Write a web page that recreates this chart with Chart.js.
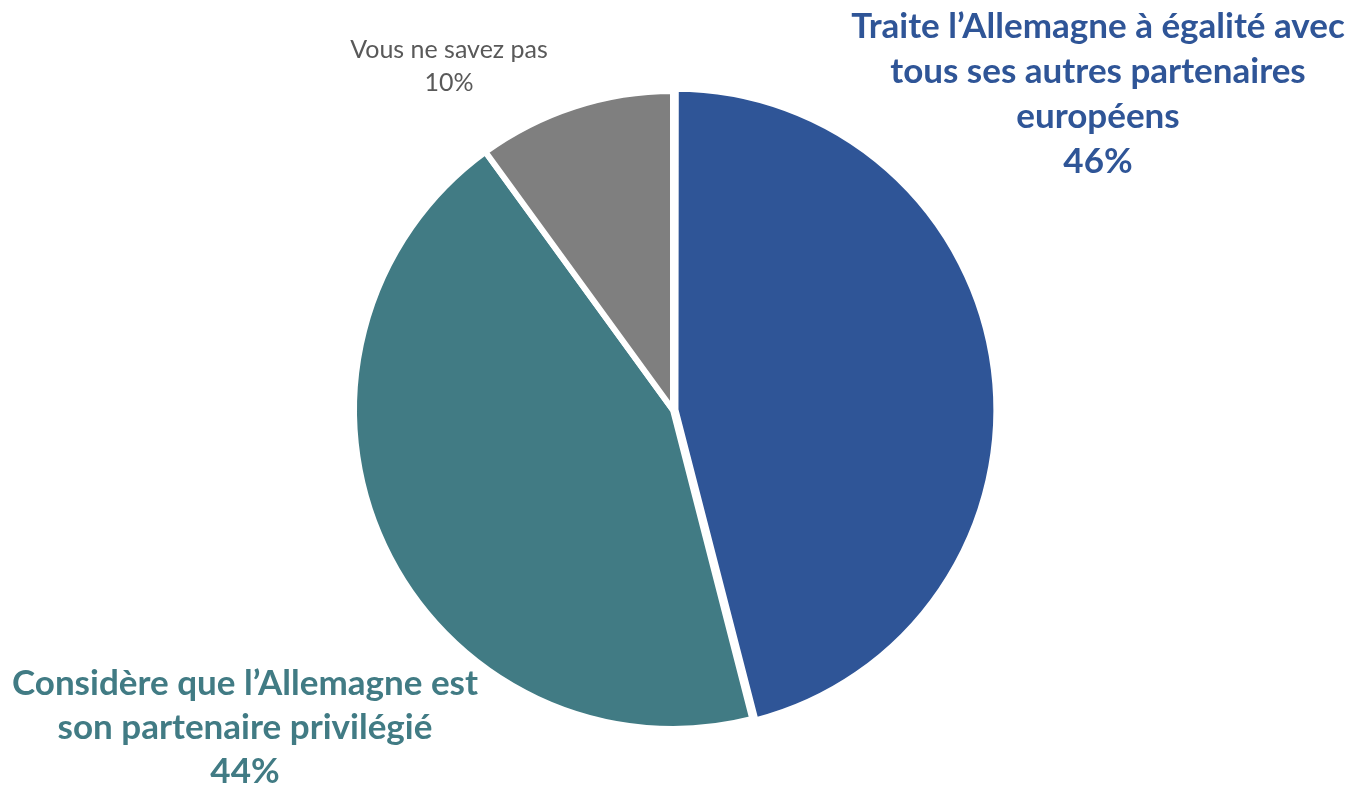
<!DOCTYPE html>
<html>
<head>
<meta charset="utf-8">
<script src="https://cdn.jsdelivr.net/npm/chart.js@4/dist/chart.umd.min.js"></script>
<style>
  html, body { margin: 0; padding: 0; background: #fff; }
  #wrap { width: 1353px; height: 789px; position: relative; }
</style>
</head>
<body>
<div id="wrap"><canvas id="pieChart"></canvas></div>
<script>
  // Values
  const categories = [
    "Traite l’Allemagne à égalité avec tous ses autres partenaires européens",
    "Considère que l’Allemagne est son partenaire privilégié",
    "Vous ne savez pas"
  ];
  const values = [46, 44, 10];
  const labelLines = [
    ["Traite l’Allemagne à égalité avec", "tous ses autres partenaires", "européens"],
    ["Considère que l’Allemagne est", "son partenaire privilégié"],
    ["Vous ne savez pas"]
  ];
  const sliceColors = ["#2F5597", "#417B84", "#7F7F7F"];
  const textColors = ["#2F5597", "#417B84", "#595959"];

  // label placement: center x, first baseline, line step, font
  const labelStyle = [
    { x: 1098, y: 38, step: 45, font: "bold 35px Lato" },
    { x: 245, y: 695, step: 44, font: "bold 35px Lato" },
    { x: 449, y: 58, step: 33, font: "25px Lato" }
  ];

  const sliceLabels = {
    id: "sliceLabels",
    afterDraw(chart) {
      const ctx = chart.ctx;
      ctx.save();
      ctx.textAlign = "center";
      ctx.textBaseline = "alphabetic";
      labelLines.forEach(function (lines, i) {
        const s = labelStyle[i];
        ctx.font = s.font;
        ctx.fillStyle = textColors[i];
        const all = lines.concat([values[i] + "%"]);
        all.forEach(function (t, j) {
          ctx.fillText(t, s.x, s.y + j * s.step);
        });
      });
      ctx.restore();
    }
  };

  new Chart(document.getElementById("pieChart"), {
    type: "pie",
    data: {
      labels: categories,
      datasets: [{
        data: values,
        backgroundColor: sliceColors,
        borderColor: "#ffffff",
        borderWidth: 6,
        offset: [10, 0, 0],
        radius: 319
      }]
    },
    options: {
      responsive: true,
      maintainAspectRatio: false,
      animation: false,
      layout: { padding: { left: 0, right: 7, top: 31, bottom: 0 } },
      plugins: {
        legend: { display: false },
        tooltip: { enabled: false }
      }
    },
    plugins: [sliceLabels]
  });
</script>
</body>
</html>
